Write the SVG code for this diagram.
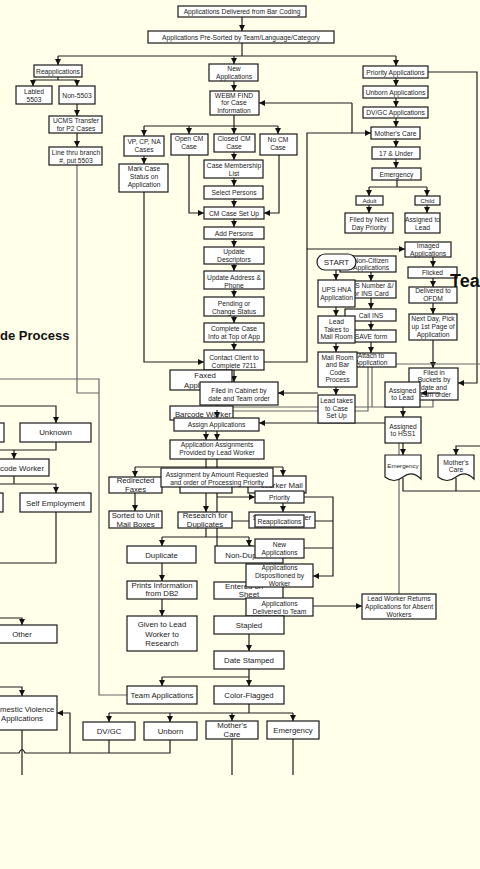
<svg xmlns="http://www.w3.org/2000/svg" width="480" height="869" viewBox="0 0 480 869">
<style>
.b{fill:#fff;stroke:#1a1a1a;stroke-width:1.2}
.t{font-family:"Liberation Sans",Arial,sans-serif;font-size:6.7px;fill:#222;text-anchor:middle}
.m{font-size:7.8px}
.s{font-size:6.2px}
.l{text-anchor:start}
.h{font-family:"Liberation Sans",Arial,sans-serif;font-weight:bold;fill:#111}
.c{fill:none;stroke:#1e1e1e;stroke-width:1.2}
.g{stroke:#666}
</style>
<defs>
<marker id="a" markerUnits="userSpaceOnUse" markerWidth="6" markerHeight="6" refX="6" refY="3" orient="auto">
<path d="M0,0 L6,3 L0,6 z" fill="#111"/>
</marker>
</defs>
<rect width="480" height="869" fill="#FFFFEA"/>
<g id="connectors">
<path class="c" d="M242,17 V31" marker-end="url(#a)"/>
<path class="c" d="M242,43 V56 M58,56 H396"/>
<path class="c" d="M58,56 V65" marker-end="url(#a)"/>
<path class="c" d="M234,56 V64" marker-end="url(#a)"/>
<path class="c" d="M396,56 V66" marker-end="url(#a)"/>
<path class="c" d="M58,77 V80 M33,80 H77"/>
<path class="c" d="M33,80 V86" marker-end="url(#a)"/>
<path class="c" d="M77,80 V86" marker-end="url(#a)"/>
<path class="c" d="M77,104 V116" marker-end="url(#a)"/>
<path class="c" d="M77,133 V147" marker-end="url(#a)"/>
<path class="c g" d="M77,165 V393 H99"/>
<path class="c g" d="M0,379 H99 V695 H127"/>
<path class="c" d="M234,81 V91" marker-end="url(#a)"/>
<path class="c" d="M234,115 V126 M144,126 H278"/>
<path class="c" d="M144,126 V136" marker-end="url(#a)"/>
<path class="c" d="M189,126 V134" marker-end="url(#a)"/>
<path class="c" d="M234,126 V134" marker-end="url(#a)"/>
<path class="c" d="M278,126 V134" marker-end="url(#a)"/>
<path class="c" d="M144,156 V164" marker-end="url(#a)"/>
<path class="c" d="M144,192 V362 H204" marker-end="url(#a)"/>
<path class="c" d="M234,152 V160" marker-end="url(#a)"/>
<path class="c" d="M234,178 V186" marker-end="url(#a)"/>
<path class="c" d="M234,199 V207" marker-end="url(#a)"/>
<path class="c" d="M189,155 V213 H204" marker-end="url(#a)"/>
<path class="c" d="M279,155 V213 H264" marker-end="url(#a)"/>
<path class="c" d="M234,219 V227" marker-end="url(#a)"/>
<path class="c" d="M234,239 V247" marker-end="url(#a)"/>
<path class="c" d="M234,264 V271" marker-end="url(#a)"/>
<path class="c" d="M234,289 V297" marker-end="url(#a)"/>
<path class="c" d="M234,316 V323" marker-end="url(#a)"/>
<path class="c" d="M234,342 V350" marker-end="url(#a)"/>
<path class="c" d="M234,370 V382" marker-end="url(#a)"/>
<path class="c" d="M264,362 H307 V249 H405" marker-end="url(#a)"/>
<path class="c" d="M307,249 V133 H352"/>
<path class="c" d="M352,103 H259" marker-end="url(#a)"/>
<path class="c" d="M352,103 V133 H371" marker-end="url(#a)"/>
<path class="c" d="M396,78 V86" marker-end="url(#a)"/>
<path class="c" d="M396,98 V107" marker-end="url(#a)"/>
<path class="c" d="M396,118 V127" marker-end="url(#a)"/>
<path class="c" d="M396,139 V147" marker-end="url(#a)"/>
<path class="c" d="M396,159 V168" marker-end="url(#a)"/>
<path class="c" d="M397,180 V187 M369,187 H427"/>
<path class="c" d="M369,187 V196" marker-end="url(#a)"/>
<path class="c" d="M427,187 V196" marker-end="url(#a)"/>
<path class="c" d="M369,205 V213" marker-end="url(#a)"/>
<path class="c" d="M427,205 V213" marker-end="url(#a)"/>
<path class="c" d="M428,72 H477 V383 H458" marker-end="url(#a)"/>
<path class="c" d="M433,257 V267" marker-end="url(#a)"/>
<path class="c" d="M433,278 V287" marker-end="url(#a)"/>
<path class="c" d="M433,303 V314" marker-end="url(#a)"/>
<path class="c" d="M433,340 V368" marker-end="url(#a)"/>
<path class="c" d="M336,270 V280" marker-end="url(#a)"/>
<path class="c" d="M336,307 V316" marker-end="url(#a)"/>
<path class="c" d="M336,343 V352" marker-end="url(#a)"/>
<path class="c" d="M336,387 V395" marker-end="url(#a)"/>
<path class="c" d="M371,272 V281" marker-end="url(#a)"/>
<path class="c" d="M371,298 V309" marker-end="url(#a)"/>
<path class="c" d="M371,321 V330" marker-end="url(#a)"/>
<path class="c" d="M371,342 V353" marker-end="url(#a)"/>
<path class="c g" d="M368,367 V411 H226"/>
<path class="c g" d="M372,367 V407 M433,400 V407 H219"/>
<path class="c g" d="M396,364 H480"/>
<path class="c" d="M318,393 H278" marker-end="url(#a)"/>
<path class="c" d="M217,405 V418" marker-end="url(#a)"/>
<path class="c" d="M403,407 V417" marker-end="url(#a)"/>
<path class="c" d="M403,443 V455" marker-end="url(#a)"/>
<path class="c g" d="M399,443 V594"/>
<path class="c" d="M385,423 H259" marker-end="url(#a)"/>
<path class="c" d="M480,446 H456 V455" marker-end="url(#a)"/>
<path class="c" d="M403,478 V491 H480 M456,478 V491"/>
<path class="c" d="M206,431 V440" marker-end="url(#a)"/>
<path class="c" d="M217,431 V440" marker-end="url(#a)"/>
<path class="c" d="M206,459 V512" marker-end="url(#a)"/>
<path class="c" d="M135,467 H283"/>
<path class="c" d="M135,467 V477" marker-end="url(#a)"/>
<path class="c" d="M283,467 V476" marker-end="url(#a)"/>
<path class="c" d="M217,459 V547 H255" marker-end="url(#a)"/>
<path class="c" d="M217,497 H255" marker-end="url(#a)"/>
<path class="c" d="M283,493 V512" marker-end="url(#a)"/>
<path class="c" d="M217,521 H255" marker-end="url(#a)"/>
<path class="c" d="M135,493 V511" marker-end="url(#a)"/>
<path class="c" d="M206,528 V537 M162,537 H249"/>
<path class="c" d="M162,537 V546" marker-end="url(#a)"/>
<path class="c" d="M249,537 V546" marker-end="url(#a)"/>
<path class="c" d="M162,563 V581" marker-end="url(#a)"/>
<path class="c" d="M162,599 V616" marker-end="url(#a)"/>
<path class="c" d="M304,497 H333 V576 H313" marker-end="url(#a)"/>
<path class="c" d="M304,521 H333 M304,548 H333"/>
<path class="c" d="M279,587 V598" marker-end="url(#a)"/>
<path class="c" d="M313,606 H362" marker-end="url(#a)"/>
<path class="c" d="M249,634 V651" marker-end="url(#a)"/>
<path class="c" d="M249,669 V677 M162,677 H249"/>
<path class="c" d="M162,677 V686" marker-end="url(#a)"/>
<path class="c" d="M249,677 V686" marker-end="url(#a)"/>
<path class="c" d="M249,704 V713 M109,713 H293"/>
<path class="c" d="M109,713 V722" marker-end="url(#a)"/>
<path class="c" d="M170,713 V722" marker-end="url(#a)"/>
<path class="c" d="M232,713 V721" marker-end="url(#a)"/>
<path class="c" d="M293,713 V721" marker-end="url(#a)"/>
<path class="c" d="M0,406 H56 V423" marker-end="url(#a)"/>
<path class="c" d="M56,442 V450 H0"/>
<path class="c" d="M14,450 V459" marker-end="url(#a)"/>
<path class="c" d="M14,476 V484 M0,484 H56 V493" marker-end="url(#a)"/>
<path class="c" d="M56,512 V563 H0"/>
<path class="c" d="M0,618 H22 V625" marker-end="url(#a)"/>
<path class="c" d="M0,687 H22 V696" marker-end="url(#a)"/>
<path class="c" d="M109,740 V753 M170,740 V753 H25 Q22,746 19,753 H0"/>
<path class="c" d="M70,753 V713 H57" marker-end="url(#a)"/>
<path class="c" d="M22,730 V775 M232,739 V775 M293,739 V775"/>
</g>
<g id="n1"><rect class="b" x="178" y="6" width="128" height="11"/><text class="t" x="242" y="14">Applications Delivered from Bar Coding</text></g>
<g id="n2"><rect class="b" x="148" y="31" width="186" height="12"/><text class="t" x="241" y="39.5">Applications Pre-Sorted by Team/Language/Category</text></g>
<g id="reapp"><rect class="b" x="34" y="65" width="48" height="12"/><text class="t" x="58" y="73.5">Reapplications</text></g>
<g id="labled"><rect class="b" x="16" y="86" width="36" height="18"/><text class="t" x="34" y="93.5">Labled</text><text class="t" x="34" y="101.5">5503</text></g>
<g id="non5503"><rect class="b" x="59" y="86" width="36" height="18"/><text class="t" x="77" y="97.5">Non-5503</text></g>
<g id="ucms"><rect class="b" x="49" y="116" width="53" height="17"/><text class="t" x="76" y="123">UCMS Transfer</text><text class="t" x="76" y="131">for P2 Cases</text></g>
<g id="linethru"><rect class="b" x="49" y="147" width="53" height="18"/><text class="t" x="76" y="154.5">Line thru branch</text><text class="t" x="76" y="162.5">#, put 5503</text></g>
<g id="newapp"><rect class="b" x="209" y="64" width="49" height="17"/><text class="t" x="234" y="71">New</text><text class="t" x="234" y="79">Applications</text></g>
<g id="webm"><rect class="b" x="210" y="91" width="49" height="24"/><text class="t" x="234" y="97.5">WEBM FIND</text><text class="t" x="234" y="105">for Case</text><text class="t" x="234" y="112.5">Information</text></g>
<g id="vp"><rect class="b" x="124" y="136" width="40" height="20"/><text class="t" x="144" y="144">VP, CP, NA</text><text class="t" x="144" y="152">Cases</text></g>
<g id="mark"><rect class="b" x="119" y="164" width="49" height="28"/><text class="t" x="144" y="171">Mark Case</text><text class="t" x="144" y="179">Status on</text><text class="t" x="144" y="187">Application</text></g>
<g id="opencm"><rect class="b" x="171" y="134" width="37" height="21"/><text class="t" x="189" y="140.5">Open CM</text><text class="t" x="189" y="148.5">Case</text></g>
<g id="closedcm"><rect class="b" x="214" y="134" width="41" height="18"/><text class="t" x="234" y="140.5">Closed CM</text><text class="t" x="234" y="148.5">Case</text></g>
<g id="nocm"><rect class="b" x="260" y="134" width="37" height="21"/><text class="t" x="278" y="142">No CM</text><text class="t" x="278" y="150">Case</text></g>
<g id="cml"><rect class="b" x="204" y="160" width="59" height="18"/><text class="t" x="234" y="167.5">Case Membership</text><text class="t" x="234" y="175.5">List</text></g>
<g id="sel"><rect class="b" x="204" y="186" width="59" height="13"/><text class="t" x="234" y="194.8">Select Persons</text></g>
<g id="cmsu"><rect class="b" x="204" y="207" width="60" height="12"/><text class="t" x="234" y="215.5">CM Case Set Up</text></g>
<g id="addp"><rect class="b" x="204" y="227" width="60" height="12"/><text class="t" x="234" y="235.5">Add Persons</text></g>
<g id="updd"><rect class="b" x="204" y="247" width="60" height="17"/><text class="t" x="234" y="253.5">Update</text><text class="t" x="234" y="261.5">Descriptors</text></g>
<g id="upda"><rect class="b" x="204" y="271" width="60" height="18"/><text class="t" x="234" y="279.5">Update Address &amp;</text><text class="t" x="234" y="287.5">Phone</text></g>
<g id="pend"><rect class="b" x="204" y="297" width="60" height="19"/><text class="t" x="234" y="305.5">Pending or</text><text class="t" x="234" y="314">Change Status</text></g>
<g id="compl"><rect class="b" x="204" y="323" width="60" height="19"/><text class="t" x="234" y="330.5">Complete Case</text><text class="t" x="234" y="339">Info at Top of App</text></g>
<g id="contact"><rect class="b" x="204" y="350" width="60" height="20"/><text class="t" x="234" y="359.5">Contact Client to</text><text class="t" x="234" y="368">Complete 7211</text></g>
<g id="prio"><rect class="b" x="363" y="66" width="65" height="12"/><text class="t" x="395.5" y="74.5">Priority Applications</text></g>
<g id="unb"><rect class="b" x="363" y="86" width="65" height="12"/><text class="t" x="395.5" y="94.5">Unborn Applications</text></g>
<g id="dvgc"><rect class="b" x="363" y="107" width="65" height="11"/><text class="t" x="395.5" y="115">DV/GC Applications</text></g>
<g id="moc"><rect class="b" x="371" y="127" width="49" height="12"/><text class="t" x="395.5" y="135.5">Mother's Care</text></g>
<g id="u17"><rect class="b" x="372" y="147" width="48" height="12"/><text class="t" x="396" y="155.5">17 &amp; Under</text></g>
<g id="emer"><rect class="b" x="372" y="168" width="49" height="12"/><text class="t" x="396.5" y="176.5">Emergency</text></g>
<g id="adult"><rect class="b" x="356" y="196" width="27" height="9"/><text class="t s" x="369.5" y="203">Adult</text></g>
<g id="child"><rect class="b" x="415" y="196" width="25" height="9"/><text class="t s" x="427.5" y="203">Child</text></g>
<g id="fnd"><rect class="b" x="345" y="213" width="48" height="20"/><text class="t" x="369" y="221.5">Filed by Next</text><text class="t" x="369" y="229.5">Day Priority</text></g>
<g id="atl1"><rect class="b" x="405" y="213" width="35" height="20"/><text class="t" x="422.5" y="221.5">Assigned to</text><text class="t" x="422.5" y="229.5">Lead</text></g>
<g id="imaged"><rect class="b" x="405" y="242" width="46" height="15"/><text class="t" x="428" y="248">Imaged</text><text class="t" x="428" y="255.5">Applications</text></g>
<g id="flicked"><rect class="b" x="408" y="267" width="49" height="11"/><text class="t" x="432.5" y="274.5">Flicked</text></g>
<g id="ofdm"><rect class="b" x="409" y="287" width="48" height="16"/><text class="t" x="433" y="293">Delivered to</text><text class="t" x="433" y="300.5">OFDM</text></g>
<g id="nextday"><rect class="b" x="409" y="314" width="48" height="26"/><text class="t" x="433" y="320.5">Next Day, Pick</text><text class="t" x="433" y="328.5">up 1st Page of</text><text class="t" x="433" y="336.5">Application</text></g>
<g id="buckets"><rect class="b" x="409" y="368" width="49" height="32"/><text class="t" x="434" y="374.5">Filed in</text><text class="t" x="434" y="382">Buckets by</text><text class="t" x="434" y="389.5">date and</text><text class="t" x="434" y="397">Team order</text></g>
<g id="noncit"><rect class="b" x="340" y="256" width="56" height="16"/><text class="t" x="371" y="262.5">Non-Citizen</text><text class="t" x="371" y="270">Applications</text></g>
<g id="start"><rect class="b" x="317" y="254" width="39" height="16" rx="8"/><text class="t" x="336.5" y="265" style="font-size:8px">START</text></g>
<g id="insnum"><rect class="b" x="345" y="281" width="51" height="17"/><text class="t" x="371" y="287.5">INS Number &amp;/</text><text class="t" x="371" y="295.5">or INS Card</text></g>
<g id="ups"><rect class="b" x="318" y="280" width="37" height="27"/><text class="t" x="336.5" y="291.5">UPS HNA</text><text class="t" x="336.5" y="300">Application</text></g>
<g id="callins"><rect class="b" x="345" y="309" width="51" height="12"/><text class="t" x="371" y="317.5">Call INS</text></g>
<g id="save"><rect class="b" x="345" y="330" width="51" height="12"/><text class="t" x="371" y="338.5">SAVE form</text></g>
<g id="ltm"><rect class="b" x="318" y="316" width="37" height="27"/><text class="t" x="336.5" y="324">Lead</text><text class="t" x="336.5" y="331.5">Takes to</text><text class="t" x="336.5" y="339">Mail Room</text></g>
<g id="attach"><rect class="b" x="345" y="353" width="51" height="14"/><text class="t" x="371" y="357.5">Attach to</text><text class="t" x="371" y="365">Application</text></g>
<g id="mailroom"><rect class="b" x="318" y="352" width="39" height="35"/><text class="t" x="337.5" y="359.5">Mail Room</text><text class="t" x="337.5" y="367">and Bar</text><text class="t" x="337.5" y="374.5">Code</text><text class="t" x="337.5" y="382">Process</text></g>
<g id="ltc"><rect class="b" x="318" y="395" width="37" height="28"/><text class="t" x="336.5" y="403">Lead takes</text><text class="t" x="336.5" y="410.5">to Case</text><text class="t" x="336.5" y="418">Set Up</text></g>
<g id="atl2"><rect class="b" x="385" y="382" width="35" height="25"/><text class="t" x="402.5" y="392.5">Assigned</text><text class="t" x="402.5" y="400">to Lead</text></g>
<path class="c" d="M440,393 H421" marker-end="url(#a)"/>
<g id="hss1"><rect class="b" x="385" y="417" width="36" height="26"/><text class="t" x="403" y="428.5">Assigned</text><text class="t" x="403" y="436">to HSS1</text></g>
<g id="emdoc"><path class="b" d="M385,455 H421 V479 Q412,470 403,477 Q394,484 385,477 Z"/><text class="t s" x="403" y="468">Emergency</text></g>
<g id="mcdoc"><path class="b" d="M438,455 H474 V479 Q465,470 456,477 Q447,484 438,477 Z"/><text class="t" x="456" y="464.5">Mother's</text><text class="t" x="456" y="472">Care</text></g>
<g id="lwr"><rect class="b" x="362" y="594" width="74" height="25"/><text class="t" x="399" y="600.5">Lead Worker Returns</text><text class="t" x="399" y="608.5">Applications for Absent</text><text class="t" x="399" y="616.5">Workers</text></g>
<g id="faxed"><rect class="b" x="170" y="370" width="62" height="20"/><text class="t m" x="205" y="378">Faxed</text><text class="t m" x="205" y="387.5">Applications</text></g>
<g id="cabinet"><rect class="b" x="200" y="382" width="78" height="23"/><text class="t" x="239" y="392.5">Filed in Cabinet by</text><text class="t" x="239" y="400.5">date and Team order</text></g>
<g id="bworker"><rect class="b" x="170" y="406" width="63" height="14"/><text class="t m" x="203" y="417">Barcode Worker</text></g>
<path class="c" d="M217,410 V418" marker-end="url(#a)"/>
<g id="assign"><rect class="b" x="174" y="418" width="85" height="13"/><text class="t" x="216.5" y="427">Assign Applications</text></g>
<g id="aa"><rect class="b" x="170" y="440" width="94" height="19"/><text class="t" x="217" y="446.5">Application Assignments</text><text class="t" x="217" y="454.5">Provided by Lead Worker</text></g>
<g id="hidden"><rect class="b" x="180" y="476" width="52" height="17"/></g>
<g id="redir"><rect class="b" x="109" y="477" width="53" height="16"/><text class="t m" x="135.5" y="483">Redirected</text><text class="t m" x="135.5" y="491.5">Faxes</text></g>
<g id="wmail"><rect class="b" x="248" y="476" width="58" height="17"/><text class="t m" x="282" y="487.5">Worker Mail</text></g>
<g id="asgnamt"><rect class="b" x="161" y="468" width="112" height="19"/><text class="t" x="217" y="476.5">Assignment by Amount Requested</text><text class="t" x="217" y="484.5">and order of Processing Priority</text></g>
<g id="prio2"><rect class="b" x="255" y="491" width="49" height="12"/><text class="t" x="279.5" y="499.5">Priority</text></g>
<g id="stw"><rect class="b" x="249" y="512" width="66" height="16"/><text class="t m" x="282" y="519.5">Sorted to Worker</text></g>
<g id="reapp2"><rect class="b" x="255" y="515" width="49" height="12"/><text class="t" x="279.5" y="523.5">Reapplications</text></g>
<g id="research"><rect class="b" x="178" y="512" width="54" height="16"/><text class="t m" x="205" y="518">Research for</text><text class="t m" x="205" y="527">Duplicates</text></g>
<g id="stu"><rect class="b" x="109" y="511" width="53" height="17"/><text class="t m" x="135.5" y="518">Sorted to Unit</text><text class="t m" x="135.5" y="527">Mail Boxes</text></g>
<g id="dup"><rect class="b" x="127" y="546" width="69" height="17"/><text class="t m" x="161.5" y="557.5">Duplicate</text></g>
<g id="nondup"><rect class="b" x="215" y="546" width="68" height="17"/><text class="t m" x="250" y="557.5">Non-Duplicate</text></g>
<g id="newapp2"><rect class="b" x="255" y="539" width="49" height="19"/><text class="t" x="279.5" y="546.5">New</text><text class="t" x="279.5" y="555">Applications</text></g>
<g id="entered"><rect class="b" x="214" y="582" width="69" height="17"/><text class="t m l" x="225" y="589">Entered on</text><text class="t m" x="249" y="596.5">Sheet</text></g>
<g id="disp"><rect class="b" x="246" y="564" width="67" height="23"/><text class="t" x="279.5" y="569.5">Applications</text><text class="t" x="279.5" y="577.5">Dispositioned by</text><text class="t" x="279.5" y="585.5">Worker</text></g>
<g id="dtt"><rect class="b" x="246" y="598" width="67" height="18"/><text class="t" x="279.5" y="605.5">Applications</text><text class="t" x="279.5" y="613.5">Delivered to Team</text></g>
<g id="prints"><rect class="b" x="127" y="581" width="70" height="18"/><text class="t m" x="162" y="588">Prints Information</text><text class="t m" x="162" y="596">from DB2</text></g>
<g id="given"><rect class="b" x="127" y="616" width="70" height="35"/><text class="t m" x="162" y="627">Given to Lead</text><text class="t m" x="162" y="636.5">Worker to</text><text class="t m" x="162" y="646">Research</text></g>
<g id="stapled"><rect class="b" x="214" y="616" width="70" height="18"/><text class="t m" x="249" y="628">Stapled</text></g>
<g id="datest"><rect class="b" x="214" y="651" width="70" height="18"/><text class="t m" x="249" y="663">Date Stamped</text></g>
<g id="teamapp"><rect class="b" x="127" y="686" width="70" height="18"/><text class="t m" x="162" y="698">Team Applications</text></g>
<g id="colorf"><rect class="b" x="214" y="686" width="70" height="18"/><text class="t m" x="249" y="698">Color-Flagged</text></g>
<g id="dvgc2"><rect class="b" x="83" y="722" width="52" height="18"/><text class="t m" x="109" y="734">DV/GC</text></g>
<g id="unb2"><rect class="b" x="144" y="722" width="53" height="18"/><text class="t m" x="170.5" y="734">Unborn</text></g>
<g id="moc2"><rect class="b" x="206" y="721" width="52" height="18"/><text class="t m" x="232" y="728">Mother's</text><text class="t m" x="232" y="737">Care</text></g>
<g id="emer2"><rect class="b" x="267" y="721" width="52" height="18"/><text class="t m" x="293" y="733">Emergency</text></g>
<g id="leftbox1"><rect class="b" x="-30" y="423" width="34" height="19"/></g>
<g id="unknown"><rect class="b" x="20" y="423" width="71" height="19"/><text class="t m" x="55.5" y="435">Unknown</text></g>
<g id="bwleft"><rect class="b" x="-30" y="459" width="79" height="17"/><text class="t m l" x="0" y="470.5">code Worker</text></g>
<g id="leftbox2"><rect class="b" x="-40" y="493" width="43" height="19"/></g>
<g id="selfemp"><rect class="b" x="20" y="493" width="71" height="19"/><text class="t m" x="55.5" y="505.5">Self Employment</text></g>
<g id="other"><rect class="b" x="-20" y="625" width="77" height="18"/><text class="t m" x="22" y="637">Other</text></g>
<g id="dva"><rect class="b" x="-40" y="696" width="97" height="34"/><text class="t m l" x="0" y="711.5">mestic Violence</text><text class="t m" x="22" y="720.5">Applications</text></g>
<text class="h" x="0" y="340" font-size="13">de Process</text>
<text class="h" x="450" y="287" font-size="18">Tea</text>
</svg>
